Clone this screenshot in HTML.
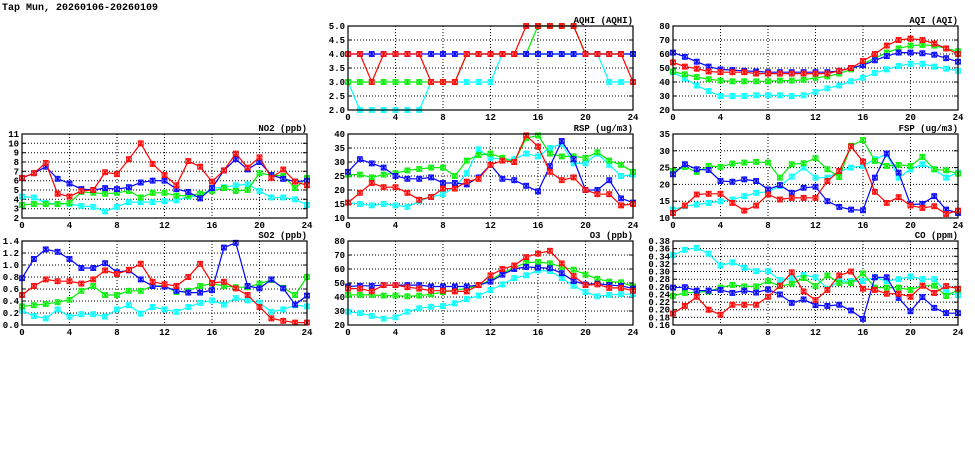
<!DOCTYPE html>
<html><head><meta charset="utf-8"><style>
body{margin:0;background:#fff;width:975px;height:447px;overflow:hidden}
svg text{font-family:"Liberation Mono","DejaVu Sans Mono",monospace;font-size:9px;font-weight:bold;fill:#000}
</style></head><body>
<svg id="s" width="975" height="447" xmlns="http://www.w3.org/2000/svg">
<text x="2" y="10" style="font-size:10px">Tap Mun, 20260106-20260109</text>
</svg>
<script>
const P=[
{t:"AQHI (AQHI)",x:348,y:26,min:2,max:5,step:0.5,dec:1,d:{
c:[3,2,2,2,2,2,2,3,3,3,3,3,3,4,4,4,4,4,4,4,4,4,3,3,3],
g:[3,3,3,3,3,3,3,3,3,3,4,4,4,4,4,4,5,5,5,5,4,4,4,4,4],
b:[4,4,4,4,4,4,4,4,4,4,4,4,4,4,4,4,4,4,4,4,4,4,4,4,4],
r:[4,4,3,4,4,4,4,3,3,3,4,4,4,4,4,5,5,5,5,5,4,4,4,4,3]}},
{t:"AQI (AQI)",x:673,y:26,min:20,max:80,step:10,dec:0,d:{
c:[47,42.5,37.5,33.5,30,30,30,30.5,30.5,30.5,30,30.5,33,35.5,37.5,40.5,43,46.5,49,51.5,53,53,51,49.5,48],
g:[47.5,45.5,43.5,42,41,40.5,40.5,40.5,40.5,41,41,41.5,43,44,46,49,53,57,61,64,66,66.5,66,64,62],
b:[61,58,54.5,51,49,48.5,48,47.5,47,47,47,47,47,47,48,50,52,55.5,58.5,61,61,60.5,59.5,57,54.5],
r:[54,51,49.5,47.5,47,47,47,46,46,46,46,46,46,46,48,50,55,60,66,70,71,70,67.5,64,60]}},
{t:"NO2 (ppb)",x:22,y:134,min:2,max:11,step:1,dec:0,d:{
c:[4.3,4.2,3.6,3.5,3.5,3.3,3.2,2.7,3.2,3.7,3.7,3.7,3.8,3.9,4.3,4.3,5.2,5.3,5.5,5.6,4.9,4.2,4.2,4.0,3.4],
g:[3.4,3.5,3.5,3.5,3.6,4.8,4.7,4.6,4.7,4.9,4.2,4.7,4.7,4.4,4.4,4.6,4.9,5.2,4.9,5.0,6.8,6.6,6.5,5.2,6.3],
b:[6.3,6.8,7.5,6.2,5.7,5.1,5.0,5.2,5.1,5.3,5.8,6.0,6.0,5.1,4.8,4.1,5.2,7.1,8.3,7.2,8.0,6.6,6.2,5.9,6.0],
r:[6.3,6.8,7.9,4.6,4.3,4.9,5.0,6.9,6.7,8.3,10.0,7.8,6.6,5.5,8.1,7.5,5.9,7.1,8.9,7.4,8.5,6.3,7.2,5.9,5.5]}},
{t:"RSP (ug/m3)",x:348,y:134,min:10,max:40,step:5,dec:0,d:{
c:[15.5,15,14.5,15,14.5,14,16,17.5,18.5,21,26,34.5,31.5,31,31,33,32,35,36.5,29.5,29.5,33,29,25,25.5],
g:[25.5,25.5,24.5,25.5,26,27,27.5,28,28,25,30.5,32.5,33,31.5,30,38.5,39.5,33,32,32,31.5,33.5,30.5,29,26.5],
b:[26.5,31,29.5,28,25,24,24,24.5,22.5,22.5,22,24.5,29,24,23.5,21.5,19.5,28.5,37.5,31,20,20,23.5,17,15.5],
r:[15.5,19,22.5,21,21,19,16.5,17.5,20.5,20.5,23,24,29,30.5,30,39.5,35.5,26.5,23.5,24.5,20,18.5,18.5,14.5,15]}},
{t:"FSP (ug/m3)",x:673,y:134,min:10,max:35,step:5,dec:0,d:{
c:[12.5,13.5,14,14.5,15,15.5,16.5,17.5,17.8,19.5,22.3,25,22,22,23.8,25,25.5,27.5,29,22,24.5,26,24.5,22,23.5],
g:[24,25.2,23.7,25.5,25.2,26.2,26.5,26.7,26.5,22,26,26.3,27.8,24.5,22.2,31.5,33.2,27,25.5,25.8,25.5,28.2,24.5,24.2,23.2],
b:[23,26,24.5,24.3,21,20.8,21.5,21,18.5,19.8,17.5,19,19.3,15,13.3,12.5,12.3,22,29.2,23.5,14,14.2,16.5,12.5,11.5],
r:[11.5,13.7,17,17.2,17.2,14.5,12.2,13.7,17,15.5,16,16,16,21,24,31.3,26.8,17.8,14.5,16.2,13.7,13,13.5,11.2,12.2]}},
{t:"SO2 (ppb)",x:22,y:241,min:0,max:1.4,step:0.2,dec:1,d:{
c:[0.24,0.15,0.11,0.26,0.14,0.18,0.18,0.14,0.26,0.33,0.19,0.3,0.26,0.22,0.3,0.37,0.41,0.34,0.45,0.41,0.37,0.22,0.26,0.33,0.31],
g:[0.31,0.33,0.35,0.38,0.42,0.57,0.65,0.5,0.5,0.57,0.57,0.65,0.65,0.55,0.57,0.65,0.69,0.65,0.63,0.63,0.69,0.75,0.62,0.5,0.8],
b:[0.78,1.1,1.26,1.22,1.1,0.95,0.95,1.03,0.88,0.91,0.76,0.65,0.64,0.57,0.54,0.54,0.58,1.29,1.37,0.65,0.61,0.76,0.61,0.34,0.49],
r:[0.5,0.65,0.76,0.73,0.73,0.69,0.76,0.91,0.85,0.92,1.02,0.72,0.68,0.65,0.8,1.02,0.7,0.72,0.61,0.5,0.3,0.11,0.07,0.04,0.04]}},
{t:"O3 (ppb)",x:348,y:241,min:20,max:80,step:10,dec:0,d:{
c:[29.5,28.5,26.5,24.5,25.5,29.5,32,33,33.5,35.5,38.5,41,45,49,53.5,55.5,59,58.5,53.5,48,43.5,40.5,41.5,42,42],
g:[41.5,41.5,41.5,41,41,40.5,41,42,43.5,45,46,48.5,52,57,61,64.5,65,64,61.5,59.5,56,53,51,50.5,47.5],
b:[47.5,48,48,48.5,48.5,48.5,48.5,47.5,47.5,47.5,47.5,48.5,51,56,60,61.5,61,60.5,57,51.5,49,49.5,48.5,48,46],
r:[46,46,44,48.5,48.5,47,46,44.5,44.5,44,44,48.5,55.5,60,62.5,68.5,71,73,64,55,48.5,49,46.5,46.5,44.5]}},
{t:"CO (ppm)",x:673,y:241,min:0.16,max:0.38,step:0.02,dec:2,d:{
c:[0.343,0.357,0.362,0.347,0.316,0.324,0.31,0.301,0.301,0.278,0.283,0.291,0.285,0.255,0.275,0.275,0.275,0.285,0.275,0.28,0.287,0.28,0.28,0.246,0.238],
g:[0.236,0.244,0.246,0.248,0.258,0.265,0.261,0.261,0.275,0.262,0.268,0.283,0.262,0.29,0.27,0.27,0.295,0.258,0.258,0.258,0.252,0.263,0.263,0.236,0.252],
b:[0.258,0.259,0.25,0.25,0.252,0.244,0.25,0.245,0.253,0.24,0.218,0.227,0.212,0.21,0.213,0.198,0.176,0.285,0.285,0.231,0.196,0.233,0.205,0.191,0.191],
r:[0.19,0.21,0.234,0.20,0.187,0.213,0.213,0.213,0.234,0.263,0.298,0.248,0.225,0.252,0.29,0.30,0.255,0.252,0.242,0.242,0.234,0.263,0.244,0.262,0.255]}}
];
const COL={c:["#00ffff","#a0ffff"],g:["#00ee00","#a0ffa0"],b:["#0000ff","#a0a0ff"],r:["#ff0000","#ffa0a0"]};
const W=285,H=84;let h="";
for(const p of P){
 const X=i=>p.x+i*W/24,Y=v=>p.y+H-(v-p.min)/(p.max-p.min)*H;
 const n=Math.round((p.max-p.min)/p.step);
 for(let k=0;k<=n;k++){const v=p.min+k*p.step,y=Y(v).toFixed(1);
  if(k>0&&k<n)h+=`<line x1="${p.x}" x2="${p.x+W}" y1="${y}" y2="${y}" stroke="#000" stroke-width="1" stroke-dasharray="1,2"/>`;
  h+=`<line x1="${p.x}" x2="${p.x+4}" y1="${y}" y2="${y}" stroke="#000"/><line x1="${p.x+W-4}" x2="${p.x+W}" y1="${y}" y2="${y}" stroke="#000"/>`;
  h+=`<text x="${p.x-3}" y="${+y+3}" text-anchor="end">${v.toFixed(p.dec)}</text>`;}
 for(let i=0;i<=24;i+=4){const x=X(i);
  if(i>0&&i<24)h+=`<line x1="${x}" x2="${x}" y1="${p.y}" y2="${p.y+H}" stroke="#000" stroke-dasharray="1,2"/>`;
  h+=`<text x="${x}" y="${p.y+H+10}" text-anchor="middle">${i}</text>`;}
 h+=`<text x="${p.x+W}" y="${p.y-3}" text-anchor="end">${p.t}</text>`;
 for(const k of ["c","g","b","r"]){const a=p.d[k],[c,l]=COL[k];
  h+=`<polyline fill="none" stroke="${c}" stroke-width="1.2" points="${a.map((v,i)=>X(i).toFixed(1)+","+Y(v).toFixed(1)).join(" ")}"/>`;
  a.forEach((v,i)=>{const x=X(i),y=Y(v);
   h+=`<rect x="${x-2.5}" y="${y-2.5}" width="5" height="5" fill="${l}" stroke="${c}" stroke-width="0.8"/><path d="M${x-2.5},${y-2.5}L${x+2.5},${y+2.5}M${x+2.5},${y-2.5}L${x-2.5},${y+2.5}M${x},${y-3}V${y+3}" stroke="${c}" stroke-width="1"/>`;});}
 h+=`<rect x="${p.x}" y="${p.y}" width="${W}" height="${H}" fill="none" stroke="#000" stroke-width="1.2"/>`;
}
document.getElementById("s").insertAdjacentHTML("beforeend",h);
</script>
</body></html>
